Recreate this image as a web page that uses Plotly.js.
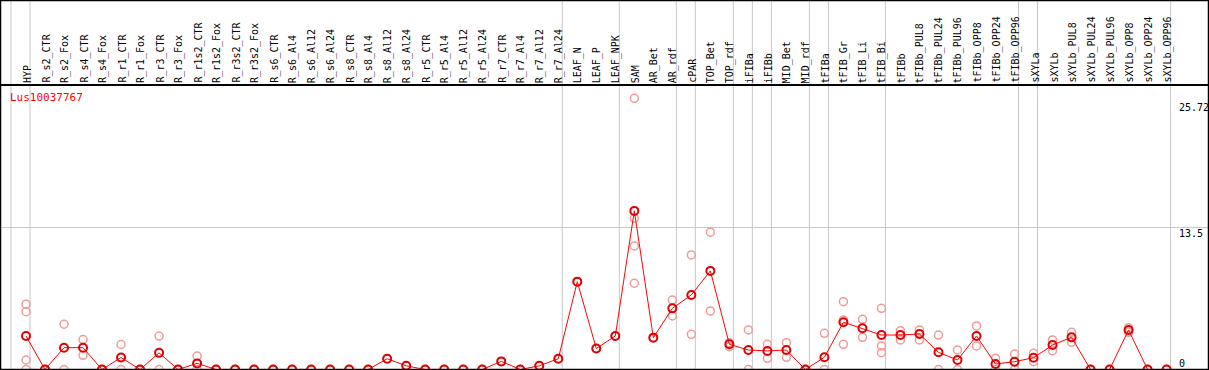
<!DOCTYPE html>
<html>
<head>
<meta charset="utf-8">
<script src="https://cdn.plot.ly/plotly-3.0.1.min.js"></script>
<style>html,body{margin:0;padding:0;background:#fff;}#chart{width:1209px;height:370px;}</style>
</head>
<body>
<div id="chart"></div>
<script>
const geneName = "Lus10037767";
const categories = ["HYP","R_s2_CTR","R_s2_Fox","R_s4_CTR","R_s4_Fox","R_r1_CTR","R_r1_Fox","R_r3_CTR","R_r3_Fox","R_r1s2_CTR","R_r1s2_Fox","R_r3s2_CTR","R_r3s2_Fox","R_s6_CTR","R_s6_Al4","R_s6_Al12","R_s6_Al24","R_s8_CTR","R_s8_Al4","R_s8_Al12","R_s8_Al24","R_r5_CTR","R_r5_Al4","R_r5_Al12","R_r5_Al24","R_r7_CTR","R_r7_Al4","R_r7_Al12","R_r7_Al24","LEAF_N","LEAF_P","LEAF_NPK","SAM","AR_Bet","AR_rdf","cPAR","TOP_Bet","TOP_rdf","iFIBa","iFIBb","MID_Bet","MID_rdf","tFIBa","tFIB_Gr","tFIB_Li","tFIB_Bi","tFIBb","tFIBb_PUL8","tFIBb_PUL24","tFIBb_PUL96","tFIBb_OPP8","tFIBb_OPP24","tFIBb_OPP96","sXYLa","sXYLb","sXYLb_PUL8","sXYLb_PUL24","sXYLb_PUL96","sXYLb_OPP8","sXYLb_OPP24","sXYLb_OPP96"];
const meanValues = [3.18,0,2.07,2.07,0,1.14,0,1.58,0,0.58,0,0,0,0,0,0,0,0,0,1.02,0.35,0,0,0,0,0.77,0,0.35,1.02,8.33,1.99,3.18,15.04,3.02,5.8,7.07,9.35,2.39,1.85,1.76,1.85,0,1.16,4.48,3.91,3.27,3.27,3.37,1.63,0.9,3.18,0.52,0.74,1.12,2.32,3.05,0,0,3.75,0,0];
const replicates = [[6.19,5.48,0.9,0],[0,0],[4.29,0],[2.84,1.34],[0,0],[2.37,0],[0,0],[3.17,0],[0,0],[1.28,0],[0,0],[0,0],[0,0],[0,0],[0,0],[0,0],[0,0],[0,0],[0,0],[1.02],[0.35],[0,0],[0,0],[0,0],[0,0],[0.77],[0,0],[0.35],[1.02],[8.33],[1.99],[3.18],[25.72,14.35,11.72,8.18],[3.02],[6.59,5.08],[10.86,3.34],[13.02,5.55],[2.54,2.16],[3.75,0],[2.39,1.06],[2.54,1.16],[0,0],[3.43,0],[6.43,4.7,2.39],[4.76,3.05],[5.8,2.23,1.6],[3.68,2.8],[3.75,2.8],[3.27,0],[1.85,0],[4.13,2.23],[1.06,0],[1.47,0],[1.54,0.74],[2.8,1.78],[3.53,2.58],[0,0],[0,0],[3.97,3.53],[0,0],[0,0]];
const groupEnds = ["HYP","R_r7_Al24","LEAF_NPK","AR_rdf","cPAR","TOP_rdf","iFIBa","iFIBb","MID_rdf","tFIBa","tFIB_Bi","tFIBb_OPP96","sXYLa","sXYLb_OPP96"];
const tickVals = [0, 13.5, 25.72];
const tickText = ["0", "13.5", "25.72"];

const W = 1209, H = 370;
const step = 19.01, firstPx = 26;
const xa = -firstPx/step, xb = xa + W/step;
const pxPerUnit = 10.545, zeroPx = 369.5;
const ya = -(H - zeroPx)/pxPerUnit, yb = ya + H/pxPerUnit;
const xIdx = categories.map((c,i)=>i);
const sepOffset = 0.21;

const repX = [], repY = [];
replicates.forEach((arr,i)=>arr.forEach(v=>{repX.push(i); repY.push(v);}));

const traces = [
  {x: repX, y: repY, type:'scatter', mode:'markers', cliponaxis:true,
   marker:{symbol:'circle-open', size:8, color:'#f09a9a', line:{width:1.5, color:'#f09a9a'}}, hoverinfo:'skip'},
  {x: xIdx, y: meanValues, type:'scatter', mode:'lines+markers', cliponaxis:true,
   line:{color:'#ff0000', width:1},
   marker:{symbol:'circle-open', size:8, color:'#e00000', line:{width:2, color:'#e00000'}}}
];

const shapes = [];
const sepIdx = [-1].concat(groupEnds.map(g=>categories.indexOf(g)));
sepIdx.forEach(k=>shapes.push({type:'line', xref:'x', yref:'paper', x0:k+sepOffset, x1:k+sepOffset, y0:0, y1:1, line:{color:'#c8c8c8', width:1}, layer:'below'}));
const topLineY = 1 - 85/H;
shapes.push({type:'line', xref:'paper', yref:'paper', x0:0, x1:1, y0:topLineY, y1:topLineY, line:{color:'#000', width:2}});
shapes.push({type:'rect', xref:'paper', yref:'paper', x0:0, x1:1, y0:0, y1:1, line:{color:'#000', width:2.5}, fillcolor:'rgba(0,0,0,0)'});

const annotations = [];
categories.forEach((c,i)=>annotations.push({x:i, y:1 - 84/H, xref:'x', yref:'paper', text:c, showarrow:false, textangle:-90, xanchor:'center', yanchor:'bottom', borderpad:0, xshift:1, font:{family:'DejaVu Sans Mono', size:10, color:'#000'}}));
tickVals.forEach((v,i)=>annotations.push({x:(1178)/W, y:v, xref:'paper', yref:'y', text:tickText[i], showarrow:false, xanchor:'left', yanchor: v===0 ? 'bottom' : 'top', yshift: v===0 ? 0 : (i===2 ? -3 : 0), borderpad:0, font:{family:'DejaVu Sans Mono', size:10, color:'#000'}}));
annotations.push({x:9/W, y:1 - 90/H, xref:'paper', yref:'paper', text:geneName, showarrow:false, xanchor:'left', yanchor:'top', borderpad:0, font:{family:'DejaVu Sans Mono', size:11, color:'#ff0000'}});

const layout = {
  width:W, height:H, margin:{l:0,r:0,t:0,b:0}, showlegend:false,
  paper_bgcolor:'#fff', plot_bgcolor:'#fff',
  xaxis:{range:[xa,xb], showgrid:false, zeroline:false, showticklabels:false, ticks:'', fixedrange:true},
  yaxis:{range:[ya,yb], tickvals:[13.5], showgrid:true, gridcolor:'#c8c8c8', gridwidth:1, zeroline:false, showticklabels:false, ticks:'', fixedrange:true},
  shapes:shapes, annotations:annotations
};
Plotly.newPlot('chart', traces, layout, {staticPlot:true, displayModeBar:false});
</script>
</body>
</html>
